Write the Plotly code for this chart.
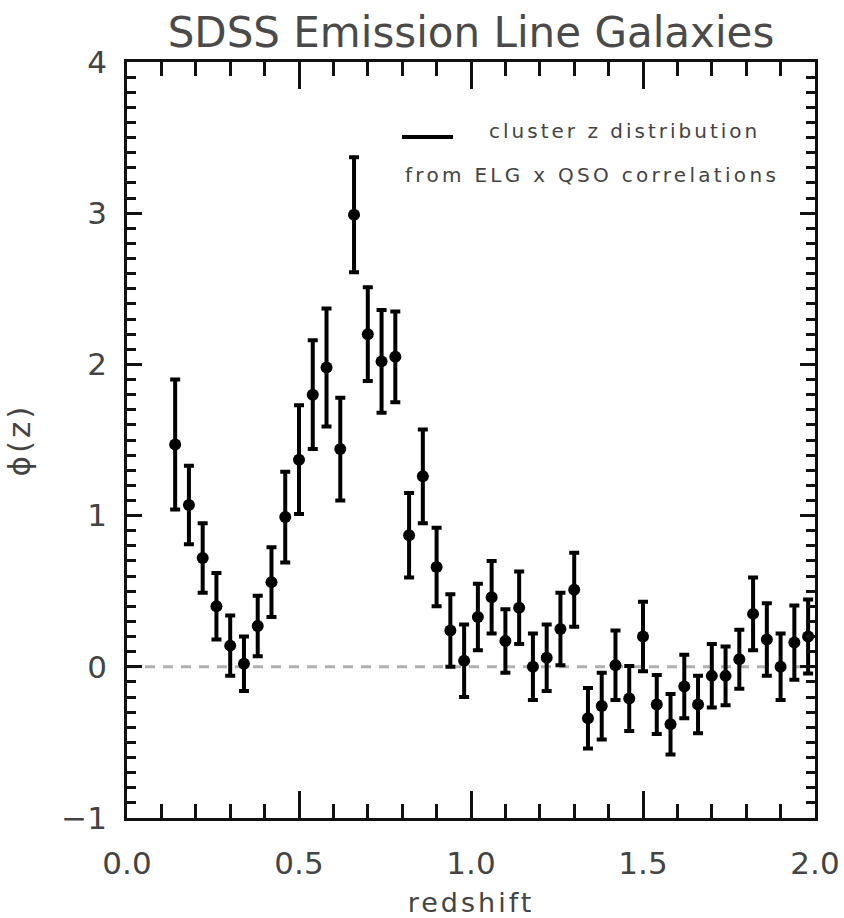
import plotly.graph_objects as go

# Data
redshift = [0.14, 0.18, 0.22, 0.26, 0.30, 0.34, 0.38, 0.42, 0.46, 0.50,
            0.54, 0.58, 0.62, 0.66, 0.70, 0.74, 0.78, 0.82, 0.86, 0.90,
            0.94, 0.98, 1.02, 1.06, 1.10, 1.14, 1.18, 1.22, 1.26, 1.30,
            1.34, 1.38, 1.42, 1.46, 1.50, 1.54, 1.58, 1.62, 1.66, 1.70,
            1.74, 1.78, 1.82, 1.86, 1.90, 1.94, 1.98]
phi = [1.47, 1.07, 0.72, 0.40, 0.14, 0.02, 0.27, 0.56, 0.99, 1.37,
       1.80, 1.98, 1.44, 2.99, 2.20, 2.02, 2.05, 0.87, 1.26, 0.66,
       0.24, 0.04, 0.33, 0.46, 0.17, 0.39, 0.00, 0.06, 0.25, 0.51,
       -0.34, -0.26, 0.01, -0.21, 0.20, -0.25, -0.38, -0.13, -0.25, -0.06,
       -0.06, 0.05, 0.35, 0.18, 0.00, 0.16, 0.20]
phi_err = [0.43, 0.26, 0.23, 0.22, 0.20, 0.18, 0.20, 0.23, 0.30, 0.36,
           0.36, 0.39, 0.34, 0.38, 0.31, 0.34, 0.30, 0.28, 0.31, 0.26,
           0.24, 0.24, 0.22, 0.24, 0.21, 0.24, 0.22, 0.22, 0.24, 0.245,
           0.20, 0.22, 0.23, 0.215, 0.23, 0.195, 0.20, 0.21, 0.19, 0.21,
           0.195, 0.195, 0.24, 0.24, 0.22, 0.245, 0.245]

x_range = [0.0, 2.0]
y_range = [-1.0, 4.0]
x_ticks = [0.0, 0.5, 1.0, 1.5, 2.0]
x_ticklabels = ["0.0", "0.5", "1.0", "1.5", "2.0"]
y_ticks = [-1, 0, 1, 2, 3, 4]
y_ticklabels = ["\u22121", "0", "1", "2", "3", "4"]

title_text = "SDSS Emission Line Galaxies"
legend_line1 = "cluster z distribution"
legend_line2 = "from ELG x QSO correlations"
x_title = "redshift"
y_title = "\u03d5(z)"

FONT = "DejaVu Sans"
TXT = "#444444"


def spaced(s, sp):
    return '<span style="letter-spacing:%spx">%s</span>' % (sp, s)


# full-window figure (body margin removed after plotting)
W, H = 844, 918
L, R, T, B = 127, 29, 62, 100
PW, PH = W - L - R, H - T - B


def px(xp):
    return (xp - L) / PW


def py(yp):
    return 1 - (yp - T) / PH


fig = go.Figure()

# zero reference line
fig.add_trace(go.Scatter(
    x=x_range, y=[0, 0], mode="lines",
    line=dict(color="#b0b0b0", width=3, dash="10px,8px"),
    hoverinfo="skip", showlegend=False))

fig.add_trace(go.Scatter(
    x=redshift, y=phi, mode="markers",
    marker=dict(color="black", size=12, symbol="circle"),
    error_y=dict(type="data", array=phi_err, visible=True,
                 color="black", thickness=4, width=5),
    showlegend=False))

axis_common = dict(
    showline=True, linecolor="#111", linewidth=2.5, mirror="allticks",
    ticks="inside", tickcolor="#111", tickwidth=2.5,
    showgrid=False, zeroline=False, automargin=False,
    tickfont=dict(family=FONT, size=31, color=TXT),
)

fig.update_xaxes(
    range=x_range, tickmode="array", tickvals=x_ticks,
    ticktext=x_ticklabels,
    ticklen=27, ticklabelstandoff=16,
    minor=dict(dtick=0.1, ticklen=14, tickwidth=2.5, tickcolor="#111", ticks="inside"),
    title=dict(text=spaced(x_title, 3), font=dict(family=FONT, size=27, color=TXT), standoff=20),
    **axis_common)

fig.update_yaxes(
    range=y_range, tickmode="array", tickvals=y_ticks,
    ticktext=y_ticklabels,
    ticklen=15, ticklabelstandoff=11,
    minor=dict(dtick=0.1, ticklen=9, tickwidth=2.5, tickcolor="#111", ticks="inside"),
    title=dict(text=spaced(y_title, 3), font=dict(family=FONT, size=31, color=TXT), standoff=22),
    **axis_common)

# legend drawn in paper coordinates
fig.add_shape(type="line", xref="paper", yref="paper",
              x0=px(402), x1=px(453), y0=py(137), y1=py(137),
              line=dict(color="black", width=4))
fig.add_annotation(xref="paper", yref="paper",
                   x=px(487), y=py(131),
                   xanchor="left", yanchor="middle", showarrow=False,
                   text=spaced(legend_line1, 3), font=dict(family=FONT, size=20, color=TXT))
fig.add_annotation(xref="paper", yref="paper",
                   x=px(403), y=py(175),
                   xanchor="left", yanchor="middle", showarrow=False,
                   text=spaced(legend_line2, 3.3), font=dict(family=FONT, size=20, color=TXT))

fig.update_layout(
    template="none",
    width=W, height=H,
    margin=dict(l=L, r=R, t=T, b=B),
    paper_bgcolor="white", plot_bgcolor="white",
    title=dict(text=title_text, x=(L + PW / 2) / W, xanchor="center",
               y=1 - 32 / H, yanchor="middle",
               font=dict(family=FONT, size=42, color="#4a4a4a")),
)

fig.write_html(
    "out.html",
    config={"displayModeBar": False},
    post_script="document.body.style.margin='0';document.body.style.overflow='hidden';",
)
